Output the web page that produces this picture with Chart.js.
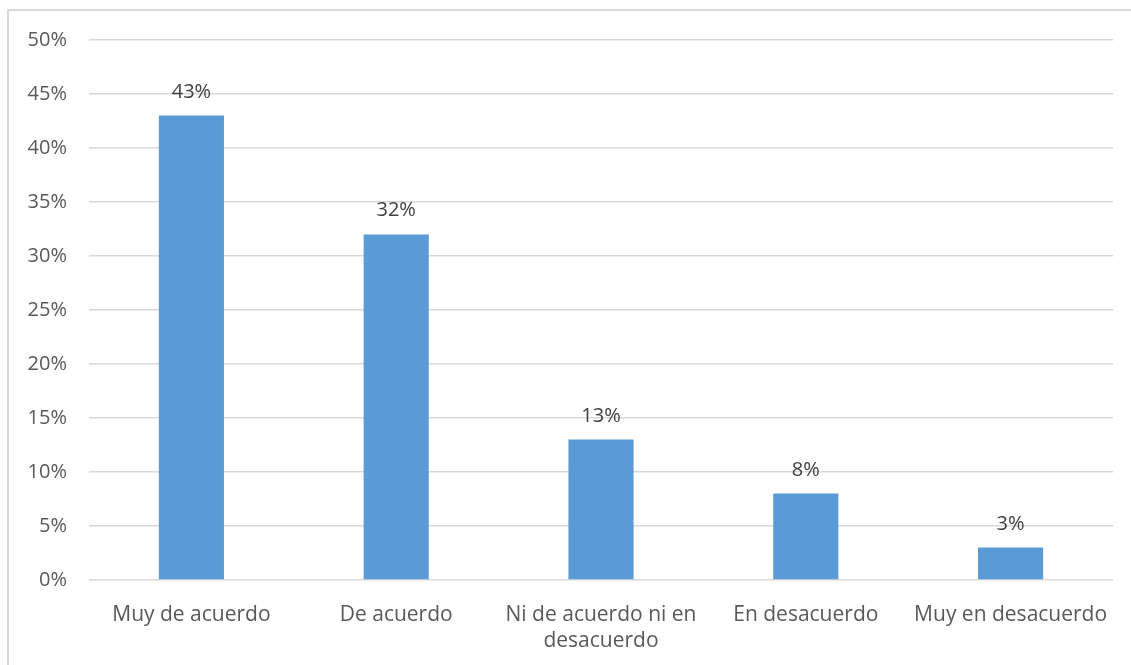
<!DOCTYPE html>
<html>
<head>
<meta charset="utf-8">
<script src="https://cdn.jsdelivr.net/npm/chart.js@4/dist/chart.umd.min.js"></script>
<style>
  html, body { margin: 0; padding: 0; background: #fff; }
  #wrap { width: 1131px; height: 665px; position: relative; }
</style>
</head>
<body>
<div id="wrap"><canvas id="myChart" width="1131" height="665"></canvas></div>
<script>
'use strict'

const categories = ['Muy de acuerdo', 'De acuerdo', ['Ni de acuerdo ni en', 'desacuerdo'], 'En desacuerdo', 'Muy en desacuerdo'];
const percentages = [43, 32, 13, 8, 3];
const yTickStep = 5;
const yMax = 50;

const textColor = '#595959';
const fontFamily = '"Open Sans", "Noto Sans", sans-serif';

// light frame around the chart, like the office chart border
const framePlugin = {
    id: 'frame',
    beforeDraw(chart) {
        const ctx = chart.ctx;
        ctx.save();
        ctx.fillStyle = '#ffffff';
        ctx.fillRect(0, 0, chart.width, chart.height);
        ctx.strokeStyle = '#d9d9d9';
        ctx.lineWidth = 2;
        ctx.strokeRect(8, 10, chart.width + 20, chart.height + 20);
        ctx.restore();
    }
};

// value labels above bars
const valueLabels = {
    id: 'valueLabels',
    afterDatasetsDraw(chart) {
        const ctx = chart.ctx;
        const meta = chart.getDatasetMeta(0);
        ctx.save();
        ctx.fillStyle = '#404040';
        ctx.font = '20px ' + fontFamily;
        ctx.textAlign = 'center';
        ctx.textBaseline = 'alphabetic';
        meta.data.forEach((bar, i) => {
            ctx.fillText(percentages[i] + '%', bar.x, bar.y - 18);
        });
        ctx.restore();
    }
};

const data = {
    labels: categories,
    datasets: [{
        data: percentages,
        backgroundColor: '#5b9bd5',
        borderWidth: 0,
        barPercentage: 0.318,
        categoryPercentage: 1
    }]
};

const config = {
    type: 'bar',
    data: data,
    options: {
        responsive: false,
        animation: false,
        layout: { padding: { top: 40, right: 18, bottom: 0, left: 0 } },
        plugins: {
            legend: { display: false },
            tooltip: { enabled: false }
        },
        scales: {
            x: {
                grid: { display: false, drawTicks: false },
                border: { display: false },
                ticks: {
                    color: textColor,
                    font: { family: fontFamily, size: 21, lineHeight: 1.25 },
                    padding: 22,
                    maxRotation: 0,
                    autoSkip: false
                },
                afterFit(scale) { scale.height = 85; }
            },
            y: {
                min: 0,
                max: yMax,
                grid: { color: '#d9d9d9', lineWidth: 1.5, drawTicks: false },
                border: { display: false },
                ticks: {
                    stepSize: yTickStep,
                    color: textColor,
                    font: { family: fontFamily, size: 20 },
                    padding: 22,
                    callback: v => v + '%'
                },
                afterFit(scale) { scale.width = 89; }
            }
        }
    },
    plugins: [framePlugin, valueLabels]
};

const myChart = new Chart(
    document.getElementById('myChart'),
    config
);
</script>
</body>
</html>
